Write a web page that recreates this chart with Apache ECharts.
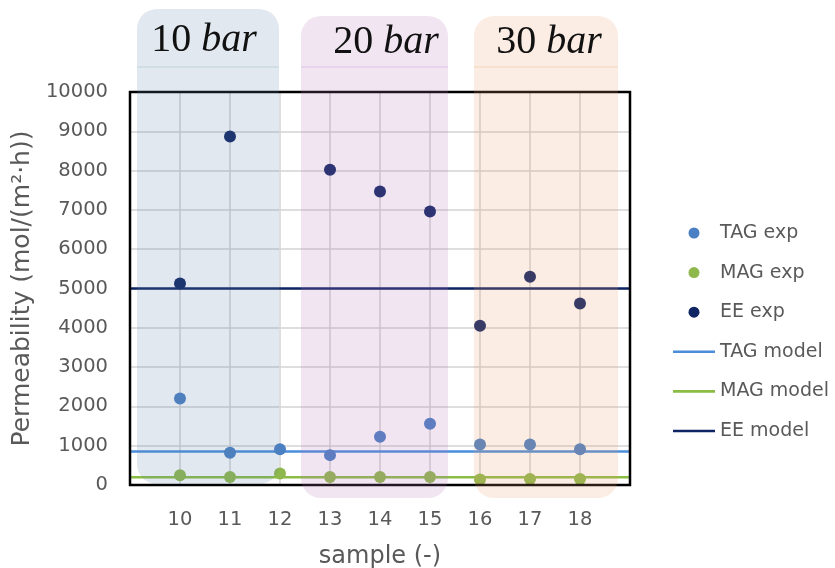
<!DOCTYPE html>
<html>
<head>
<meta charset="utf-8">
<script src="https://cdn.jsdelivr.net/npm/echarts@6/dist/echarts.min.js"></script>
<style>html,body{margin:0;padding:0;background:#fff;}#c{width:835px;height:568px;}</style>
</head>
<body>
<div id="c"></div>
<script>
// ---- data ----
const samples = [10, 11, 12, 13, 14, 15, 16, 17, 18];
const tagExp = [2200, 820, 910, 760, 1230, 1560, 1030, 1030, 910];
const magExp = [250, 205, 290, 205, 205, 205, 140, 155, 155];
const eeExp  = [5130, 8870, null, 8020, 7470, 6960, 4050, 5300, 4620];
const tagModel = 850;
const magModel = 200;
const eeModel  = 5000;
const xRange = [9, 19];
const yTicks = [0, 1000, 2000, 3000, 4000, 5000, 6000, 7000, 8000, 9000, 10000];
const groupLabels = ['10', '20', '30'];
const groupUnit = 'bar';

const pts = arr => samples.map((s, i) => [s, arr[i]]).filter(p => p[1] != null);
const hline = v => [[xRange[0], v], [xRange[1], v]];

const C = {
  tagExp: '#4a7fc3', magExp: '#8fb84c', eeExp: '#0e2463',
  tagModel: '#4a8ddb', magModel: '#8bbd45', eeModel: '#0e2463'
};
const txt = '#595959';
const sans = 'DejaVu Sans';
const G = { left: 130, right: 205, top: 92, bottom: 83, W: 835, H: 568 };
const lineIcon = 'path://M0,0L42,0L42,0.01L0,0.01Z M0,4.2L42,4.2L42,6.8L0,6.8Z M0,10.99L42,10.99L42,11L0,11Z';

function region(x, w, top, bottom, color, line) {
  return [
    { type: 'rect', z: 100, silent: true,
      shape: { x: x, y: top, width: w, height: bottom - top, r: 20 },
      style: { fill: color } },
    { type: 'line', z: 101, silent: true,
      shape: { x1: x, y1: 67, x2: x + w, y2: 67 },
      style: { stroke: line, lineWidth: 1 } }
  ];
}
function title(cx, cy, n) {
  return { type: 'text', z: 102, silent: true, x: cx, y: cy,
    style: {
      text: '{n|' + n + ' }{i|' + groupUnit + '}',
      align: 'center', verticalAlign: 'middle',
      rich: {
        n: { fontFamily: 'Liberation Serif', fontSize: 40, fill: '#111' },
        i: { fontFamily: 'Liberation Serif', fontSize: 40, fontStyle: 'italic', fill: '#111' }
      }
    } };
}

const chart = echarts.init(document.getElementById('c'), null, { renderer: 'canvas' });
chart.setOption({
  animation: false,
  backgroundColor: '#fff',
  grid: { left: G.left, right: G.right, top: G.top, bottom: G.bottom, show: false,
          containLabel: false, outerBoundsMode: 'none' },
  xAxis: {
    type: 'value', min: xRange[0], max: xRange[1], interval: 1,
    name: 'sample (-)', nameLocation: 'middle', nameGap: 60,
    nameTextStyle: { color: txt, fontSize: 24, fontFamily: sans },
    axisLine: { show: false }, axisTick: { show: false },
    axisLabel: { showMinLabel: false, showMaxLabel: false, color: txt, fontSize: 19.5,
                 fontFamily: sans, margin: 25 },
    splitLine: { show: true, lineStyle: { color: '#d3d3d3', width: 1.5 } }
  },
  yAxis: {
    type: 'value', min: yTicks[0], max: yTicks[yTicks.length - 1], interval: yTicks[1] - yTicks[0],
    name: 'Permeability (mol/(m²·h))', nameLocation: 'middle', nameGap: 94,
    nameTextStyle: { color: txt, fontSize: 25, fontFamily: sans },
    axisLine: { show: false }, axisTick: { show: false },
    axisLabel: { color: txt, fontSize: 19.5, fontFamily: sans, margin: 22,
                 formatter: v => String(v) },
    splitLine: { show: true, lineStyle: { color: '#d3d3d3', width: 1.5 } }
  },
  legend: {
    orient: 'vertical', left: 673, top: 223, padding: 0,
    itemWidth: 42, itemHeight: 11, itemGap: 19.6,
    textStyle: { color: txt, fontSize: 19, fontFamily: sans, lineHeight: 20 },
    data: [
      { name: 'TAG exp', icon: 'circle' },
      { name: 'MAG exp', icon: 'circle' },
      { name: 'EE exp', icon: 'circle' },
      { name: 'TAG model', icon: lineIcon },
      { name: 'MAG model', icon: lineIcon },
      { name: 'EE model', icon: lineIcon }
    ]
  },
  series: [
    { name: 'TAG model', type: 'line', data: hline(tagModel), symbol: 'none', z: 2,
      lineStyle: { color: C.tagModel, width: 2.5 }, itemStyle: { color: C.tagModel } },
    { name: 'MAG model', type: 'line', data: hline(magModel), symbol: 'none', z: 2,
      lineStyle: { color: C.magModel, width: 2.5 }, itemStyle: { color: C.magModel } },
    { name: 'EE model', type: 'line', data: hline(eeModel), symbol: 'none', z: 2,
      lineStyle: { color: C.eeModel, width: 2.5 }, itemStyle: { color: C.eeModel } },
    { name: 'TAG exp', type: 'scatter', data: pts(tagExp), symbolSize: 12, z: 3,
      itemStyle: { color: C.tagExp, opacity: 1 } },
    { name: 'MAG exp', type: 'scatter', data: pts(magExp), symbolSize: 12, z: 3,
      itemStyle: { color: C.magExp, opacity: 1 } },
    { name: 'EE exp', type: 'scatter', data: pts(eeExp), symbolSize: 12, z: 3,
      itemStyle: { color: C.eeExp, opacity: 1 } }
  ],
  graphic: [].concat(
    [{ type: 'rect', z: 50, silent: true,
       shape: { x: G.left, y: G.top, width: G.W - G.left - G.right, height: G.H - G.top - G.bottom },
       style: { fill: 'none', stroke: '#000', lineWidth: 2.5 } }],
    region(137, 142, 9, 484, 'rgba(95,135,170,0.19)', 'rgba(95,135,170,0.25)'),
    region(301, 147, 16, 498, 'rgba(180,115,185,0.19)', 'rgba(180,115,185,0.3)'),
    region(474, 144, 16, 498, 'rgba(235,160,110,0.19)', 'rgba(235,160,110,0.35)'),
    [ title(204, 40, groupLabels[0]), title(386, 42, groupLabels[1]), title(549, 42, groupLabels[2]) ]
  )
});
</script>
</body>
</html>
